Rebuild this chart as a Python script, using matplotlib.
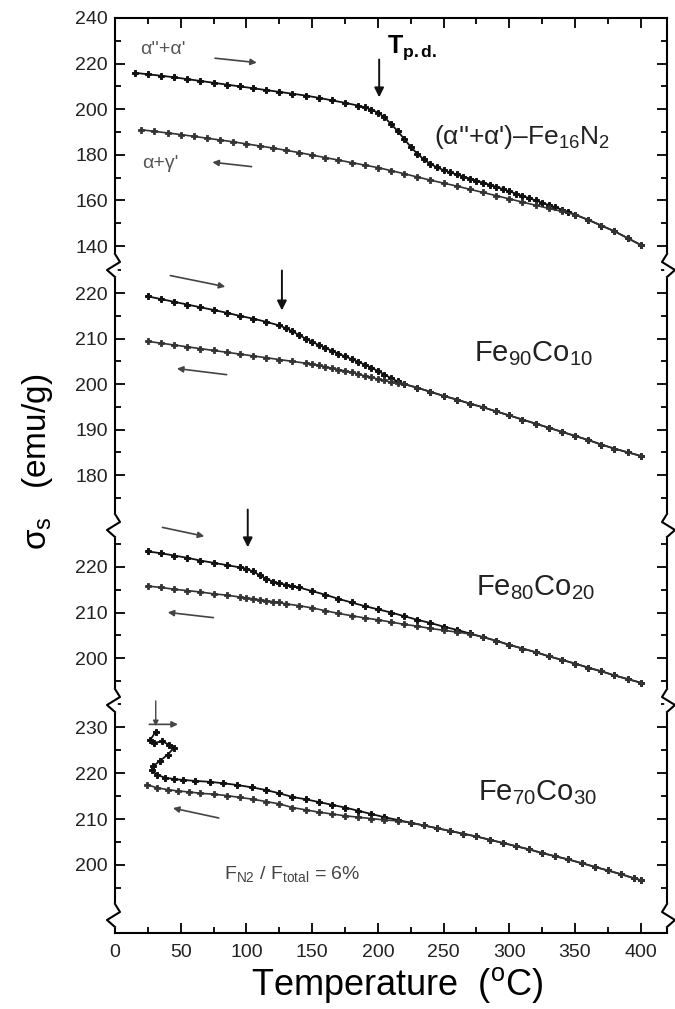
import matplotlib.pyplot as plt
from matplotlib.lines import Line2D
from matplotlib.ticker import MultipleLocator, FixedLocator

plt.rcParams['font.family'] = ['Liberation Sans', 'DejaVu Sans']
plt.rcParams['mathtext.fontset'] = 'custom'
plt.rcParams['mathtext.rm'] = 'Liberation Sans'
plt.rcParams['mathtext.it'] = 'Liberation Sans:italic'
plt.rcParams['mathtext.bf'] = 'Liberation Sans:bold'

# ---- data (temperature in C, sigma_s in emu/g) ----
# (a"+a')-Fe16N2
fe16_heat_T = [15, 25, 35, 45, 55, 65, 75, 85, 95, 105, 115, 125, 135, 145, 155, 165, 175, 185,
               190, 195, 200, 205, 210, 215, 220, 225, 230, 235, 240, 245, 250, 255, 260, 265, 270,
               275, 280, 285, 290, 295, 300, 305, 310, 315, 320, 325, 330, 335, 340, 345, 350,
               360, 370, 380, 390, 400]
fe16_heat_s = [216.0, 215.3, 214.7, 214.0, 213.2, 212.4, 211.6, 210.8, 210.0, 209.2, 208.4, 207.6,
               206.8, 206.0, 205.0, 203.9, 202.8, 201.6,
               200.8, 199.8, 198.5, 196.5, 193.5, 190.5, 187.0, 183.5, 180.5, 178.0, 176.0, 174.5,
               173.3, 172.3, 171.4, 170.5, 169.6, 168.7, 167.8, 166.9, 166.0, 165.0, 164.0, 163.0,
               162.0, 161.0, 160.0, 159.0, 158.0, 157.0, 156.0, 155.0, 153.8,
               151.5, 149.0, 146.5, 143.5, 140.5]
fe16_cool_T = [20, 30, 40, 50, 60, 70, 80, 90, 100, 110, 120, 130, 140, 150, 160, 170, 180, 190,
               200, 210, 220, 230, 240, 250, 260, 270, 280, 290, 300, 310, 320, 330, 340, 350,
               360, 370, 380, 390, 400]
fe16_cool_s = [191.0, 190.3, 189.6, 188.9, 188.1, 187.3, 186.5, 185.7, 184.8, 183.9, 183.0, 182.0,
               181.0, 179.9, 178.8, 177.7, 176.6, 175.5, 174.4, 173.1, 171.7, 170.3, 168.9, 167.6,
               166.3, 164.9, 163.5, 162.1, 160.7, 159.3, 157.9, 156.5, 155.2, 153.8, 151.5, 149.0,
               146.5, 143.5, 140.5]

# Fe90Co10
fe90_heat_T = [25, 35, 45, 55, 65, 75, 85, 95, 105, 115, 125, 130, 135, 140, 145, 150, 155, 160,
               165, 170, 175, 180, 185, 190, 195, 200, 205, 210, 215, 220]
fe90_heat_s = [219.3, 218.7, 218.1, 217.5, 216.9, 216.3, 215.7, 215.0, 214.4, 213.7, 212.9, 212.3,
               211.6, 210.8, 210.0, 209.3, 208.6, 208.0, 207.3, 206.7, 206.1, 205.5, 204.9, 204.3,
               203.6, 202.9, 202.1, 201.3, 200.6, 200.0]
fe90_cool_T = [25, 35, 45, 55, 65, 75, 85, 95, 105, 115, 125, 135, 145, 150, 155, 160, 165, 170,
               175, 180, 185, 190, 195, 200, 205, 210, 215, 220]
fe90_cool_s = [209.4, 209.0, 208.6, 208.2, 207.8, 207.4, 207.0, 206.6, 206.2, 205.8, 205.4, 205.0,
               204.6, 204.4, 204.1, 203.8, 203.5, 203.2, 202.9, 202.6, 202.2, 201.8, 201.5, 201.1,
               200.8, 200.4, 200.2, 200.0]
fe90_high_T = [230, 240, 250, 260, 270, 280, 290, 300, 310, 320, 330, 340, 350, 360, 370, 380, 390, 400]
fe90_high_s = [199.2, 198.3, 197.4, 196.6, 195.7, 194.9, 194.0, 193.1, 192.2, 191.3, 190.4, 189.5,
               188.6, 187.7, 186.7, 185.8, 185.0, 184.2]

# Fe80Co20
fe80_heat_T = [25, 35, 45, 55, 65, 75, 85, 95, 100, 105, 110, 115, 120, 125, 130, 135, 140, 150,
               160, 170, 180, 190, 200, 210, 220, 230, 240, 250, 260, 270]
fe80_heat_s = [223.4, 223.0, 222.5, 222.0, 221.4, 220.9, 220.4, 219.9, 219.6, 219.0, 218.2, 217.4,
               216.8, 216.4, 216.1, 215.8, 215.5, 214.7, 213.9, 213.0, 212.2, 211.4, 210.7, 210.0,
               209.2, 208.4, 207.7, 206.9, 206.2, 205.4]
fe80_cool_T = [25, 35, 45, 55, 65, 75, 85, 95, 100, 105, 110, 115, 120, 125, 130, 140, 150, 160,
               170, 180, 190, 200, 210, 220, 230, 240, 250, 260, 270]
fe80_cool_s = [215.8, 215.5, 215.1, 214.8, 214.5, 214.1, 213.8, 213.4, 213.2, 213.0, 212.8, 212.6,
               212.4, 212.2, 211.9, 211.5, 211.0, 210.4, 209.8, 209.3, 208.8, 208.4, 207.9, 207.4,
               207.0, 206.5, 206.1, 205.7, 205.3]
fe80_high_T = [280, 290, 300, 310, 320, 330, 340, 350, 360, 370, 380, 390, 400]
fe80_high_s = [204.6, 203.8, 202.9, 202.1, 201.3, 200.4, 199.6, 198.8, 197.9, 197.1, 196.2, 195.4, 194.6]

# Fe70Co30
fe70_heat_T = [31, 27, 30, 36, 41, 45, 40, 34, 29, 28, 32, 38, 45, 52, 61, 72, 82, 93, 104, 115,
               125, 135, 145, 155, 165, 175, 185, 195, 205, 215]
fe70_heat_s = [229.0, 227.3, 226.6, 226.9, 226.2, 225.5, 224.0, 222.6, 221.5, 220.6, 219.6, 219.0,
               218.7, 218.5, 218.3, 218.1, 217.8, 217.4, 216.9, 216.3, 215.6, 214.8, 214.3, 213.7,
               213.1, 212.5, 211.8, 211.1, 210.4, 209.8]
fe70_cool_T = [24, 32, 40, 48, 56, 65, 75, 85, 95, 105, 115, 125, 135, 145, 155, 165, 175, 185,
               195, 205, 215]
fe70_cool_s = [217.5, 216.8, 216.4, 216.1, 215.9, 215.6, 215.4, 215.1, 214.7, 214.3, 213.8, 213.3,
               212.5, 212.0, 211.5, 211.1, 210.7, 210.4, 210.1, 209.8, 209.6]
fe70_high_T = [225, 235, 245, 255, 265, 275, 285, 295, 305, 315, 325, 335, 345, 355, 365, 375, 385, 395, 400]
fe70_high_s = [209.2, 208.6, 208.0, 207.4, 206.8, 206.2, 205.5, 204.8, 204.1, 203.4, 202.6, 201.9,
               201.2, 200.4, 199.6, 198.8, 198.0, 197.1, 196.7]

panel_names = ["(α''+α')–Fe$_{16}$N$_2$", r'Fe$_{90}$Co$_{10}$',
               r'Fe$_{80}$Co$_{20}$', r'Fe$_{70}$Co$_{30}$']
major_ticks = [[140, 160, 180, 200, 220, 240], [180, 190, 200, 210, 220],
               [200, 210, 220], [200, 210, 220, 230]]
minor_ticks = [[130, 150, 170, 190, 210, 230], [175, 185, 195, 205, 215, 225],
               [195, 205, 215, 225], [195, 205, 215, 225, 235]]

# ---- layout (pixels) ----
W, H = 675, 1009
fig = plt.figure(figsize=(W / 100, H / 100), dpi=100)
left_px, right_px = 115, 667
bands = [(18, 265), (265, 525), (525, 700), (700, 933)]
ylims = [(131.7, 240), (169.0, 226.2), (190.8, 229.2), (185.2, 235.9)]

axes = []
for i, ((t, b), yl) in enumerate(zip(bands, ylims)):
    ax = fig.add_axes([left_px / W, 1 - b / H, (right_px - left_px) / W, (b - t) / H])
    ax.set_xlim(0, 420)
    ax.set_ylim(*yl)
    ax.set_facecolor('none')
    ax.yaxis.set_major_locator(FixedLocator(major_ticks[i]))
    ax.yaxis.set_minor_locator(FixedLocator(minor_ticks[i]))
    ax.xaxis.set_major_locator(MultipleLocator(50))
    ax.xaxis.set_minor_locator(MultipleLocator(25))
    for s in ax.spines.values():
        s.set_linewidth(1.5)
    ax.spines['top'].set_visible(i == 0)
    ax.spines['bottom'].set_visible(i == 3)
    ax.tick_params(axis='y', which='both', direction='in', left=True, right=True,
                   labelsize=14, pad=5, width=1.3)
    ax.tick_params(axis='x', which='both', direction='in', top=(i == 0), bottom=(i == 3),
                   labelbottom=(i == 3), labelsize=14, pad=8, width=1.3)
    ax.tick_params(which='major', length=7)
    ax.tick_params(which='minor', length=4)
    for lab in ax.get_yticklabels() + ax.get_xticklabels():
        lab.set_color('#222222')
    axes.append(ax)

heat_kw = dict(color='#111111', lw=1.3, marker='P', ms=5.0, mew=0.7)
cool_kw = dict(color='#333333', lw=1.2, marker='P', ms=4.8, mew=0.6)
arr_bold = dict(arrowstyle='-|>', color='#111111', lw=1.4, mutation_scale=14)
arr_thin = dict(arrowstyle='-|>', color='#444444', lw=1.2, mutation_scale=9)

# panel 1
ax = axes[0]
ax.plot(fe16_heat_T, fe16_heat_s, **heat_kw)
ax.plot(fe16_cool_T, fe16_cool_s, **cool_kw)
ax.text(19, 226, "α''+α'", color='#555555', fontsize=14, va='center')
ax.annotate('', xy=(110, 220.3), xytext=(74, 222.5), arrowprops=arr_thin)
ax.text(21, 176.4, "α+γ'", color='#555555', fontsize=14, va='center')
ax.annotate('', xy=(72, 176.9), xytext=(106, 174.7), arrowprops=arr_thin)
ax.annotate('', xy=(201, 204), xytext=(201, 223), arrowprops=arr_bold)
ax.text(207, 227, r'$\mathbf{T}_{\mathbf{p.d.}}$', fontsize=18, va='center')
ax.text(243, 188, panel_names[0], fontsize=19, va='center', color='#222222')

# panel 2
ax = axes[1]
ax.plot(fe90_heat_T + fe90_high_T, fe90_heat_s + fe90_high_s, **heat_kw)
ax.plot(fe90_cool_T + fe90_high_T, fe90_cool_s + fe90_high_s, **cool_kw)
ax.annotate('', xy=(86, 221.3), xytext=(40, 224.0), arrowprops=arr_thin)
ax.annotate('', xy=(45, 203.5), xytext=(87, 202.0), arrowprops=arr_thin)
ax.annotate('', xy=(127, 215.6), xytext=(127, 225.6), arrowprops=arr_bold)
ax.text(273, 206.8, panel_names[1], fontsize=21, va='center', color='#222222')

# panel 3
ax = axes[2]
ax.plot(fe80_heat_T + fe80_high_T, fe80_heat_s + fe80_high_s, **heat_kw)
ax.plot(fe80_cool_T + fe80_high_T, fe80_cool_s + fe80_high_s, **cool_kw)
ax.annotate('', xy=(70, 226.6), xytext=(34, 228.8), arrowprops=arr_thin)
ax.annotate('', xy=(38, 210.1), xytext=(77, 208.8), arrowprops=arr_thin)
ax.annotate('', xy=(101, 223.7), xytext=(101, 233.2), arrowprops=arr_bold)
ax.text(275, 215.4, panel_names[2], fontsize=21, va='center', color='#222222')

# panel 4
ax = axes[3]
ax.plot(fe70_heat_T + fe70_high_T, fe70_heat_s + fe70_high_s, **heat_kw)
ax.plot(fe70_cool_T + fe70_high_T, fe70_cool_s + fe70_high_s, **cool_kw)
ax.annotate('', xy=(31, 229.6), xytext=(31, 236.3), arrowprops=dict(arrowstyle='-|>', color='#444444',
            lw=1.0, mutation_scale=8))
ax.annotate('', xy=(50, 230.6), xytext=(24, 230.6), arrowprops=arr_thin)
ax.annotate('', xy=(42, 212.5), xytext=(81, 210.1), arrowprops=arr_thin)
ax.text(276, 215.7, panel_names[3], fontsize=21, va='center', color='#222222')
ax.text(83, 198.0, r'F$_{\rm N2}$ / F$_{\rm total}$ = 6%', fontsize=14, va='center', color='#444444')

# axis break marks on both spines
def zigzag(ypx, xpx, side):
    d = 1 if side == 'left' else -1
    fig.add_artist(Line2D([xpx / W, xpx / W], [1 - (ypx - 9) / H, 1 - (ypx + 10) / H],
                          color='white', lw=4, zorder=5))
    xs = [xpx, xpx + d * 5, xpx - d * 8, xpx]
    ys = [ypx - 11, ypx - 3, ypx + 5, ypx + 12]
    fig.add_artist(Line2D([x / W for x in xs], [1 - y / H for y in ys],
                          color='black', lw=1.5, zorder=6))

for yb in [265, 525, 700, 915]:
    zigzag(yb, left_px, 'left')
    zigzag(yb, right_px, 'right')

fig.text(397 / W, 1 - 985 / H, r'Temperature  ($^{\rm o}$C)', fontsize=26, ha='center', va='center')
fig.text(38 / W, 1 - 462 / H, r'σ$_{\rm s}$   (emu/g)', fontsize=24, rotation=90,
         ha='center', va='center')

fig.savefig('out.png', dpi=100)
